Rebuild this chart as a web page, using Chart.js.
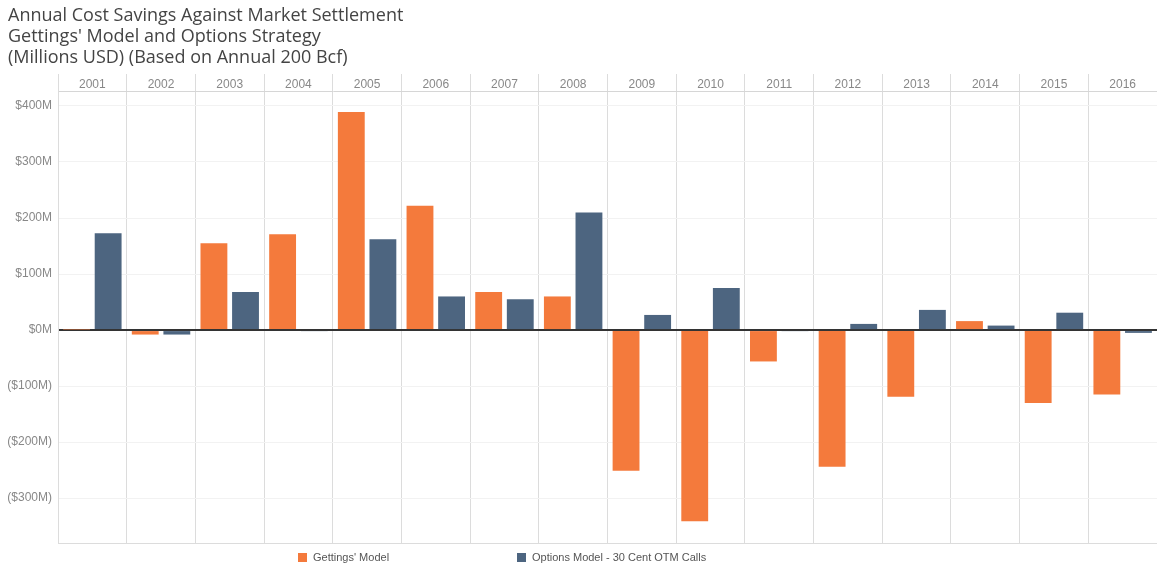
<!DOCTYPE html>
<html>
<head>
<meta charset="utf-8">
<script src="https://cdn.jsdelivr.net/npm/chart.js@4.4.1/dist/chart.umd.min.js"></script>
<style>
  html,body{margin:0;padding:0;background:#fff;}
  #wrap{position:relative;width:1157px;height:565px;}
  #legend{position:absolute;top:550px;left:0;width:1157px;height:14px;font:11px "Liberation Sans",Arial,sans-serif;color:#555;}
  #legend .item{position:absolute;top:0;display:flex;align-items:center;height:14px;}
  #legend .box{width:9px;height:9px;margin-right:6px;}
</style>
</head>
<body>
<div id="wrap">
  <canvas id="savingsChart" width="1157" height="565"></canvas>
  <div id="legend"></div>
</div>
<script>
const years=["2001","2002","2003","2004","2005","2006","2007","2008","2009","2010","2011","2012","2013","2014","2015","2016"];
const gettingsModel=[1,-8,155,171,389,222,68,60,-251,-341,-56,-244,-119,16,-130,-115];
const optionsModel=[173,-8,68,-2,162,60,55,210,27,75,-2,11,36,8,31,-5];
const yTicks=[425,400,300,200,100,0,-100,-200,-300]; // 425 = header divider line
const seriesNames=["Gettings' Model","Options Model - 30 Cent OTM Calls"];
const seriesColors=["#F47A3C","#4D6580"];
const legendLeft=[298,517];

const HEADER=425;
const fmtMoney=v=>v===HEADER?"":(v<0?"($"+Math.abs(v)+"M)":"$"+v+"M");
const font='"Liberation Sans",Arial,sans-serif';

const ctx=document.getElementById('savingsChart').getContext('2d');
const chart=new Chart(ctx,{
  type:'bar',
  data:{
    labels:years,
    datasets:[
      {label:seriesNames[0],data:gettingsModel,backgroundColor:seriesColors[0],categoryPercentage:0.92,barPercentage:0.85},
      {label:seriesNames[1],data:optionsModel,backgroundColor:seriesColors[1],categoryPercentage:0.92,barPercentage:0.85}
    ]
  },
  options:{
    responsive:false,
    animation:false,
    layout:{padding:{left:8,right:0,top:5,bottom:14}},
    plugins:{
      legend:{display:false},
      tooltip:{enabled:false},
      title:{
        display:true,align:'start',
        text:["Annual Cost Savings Against Market Settlement","Gettings' Model and Options Strategy","(Millions USD) (Based on Annual 200 Bcf)"],
        color:'#444',font:{family:'"Open Sans",sans-serif',size:18,weight:'normal',lineHeight:'21px'},
        padding:0
      }
    },
    scales:{
      x:{
        position:'top',
        grid:{offset:true,color:'#dcdcdc',drawTicks:false},
        border:{display:false},
        ticks:{mirror:true,color:'#888',padding:3,font:{family:font,size:12}}
      },
      xb:{
        position:'bottom',
        labels:years,
        grid:{display:false},
        ticks:{display:false},
        border:{display:true,color:'#dcdcdc'}
      },
      y:{
        min:-380,max:457,
        afterFit:axis=>{axis.width=50;},
        grid:{
          drawTicks:false,
          color:c=>!c.tick?'#f2f2f2':(c.tick.value===0?'#333':(c.tick.value===HEADER?'#d6d6d6':'#f2f2f2')),
          lineWidth:c=>c.tick&&c.tick.value===0?2:1
        },
        border:{display:true,color:'#dcdcdc'},
        afterBuildTicks:axis=>{axis.ticks=yTicks.map(v=>({value:v}));},
        ticks:{color:'#888',padding:6,font:{family:font,size:12},callback:v=>fmtMoney(v)}
      }
    }
  }
});

// HTML legend built from the chart's datasets
const legendEl=document.getElementById('legend');
chart.data.datasets.forEach((ds,i)=>{
  const item=document.createElement('div');
  item.className='item';
  item.style.left=legendLeft[i]+'px';
  item.innerHTML='<span class="box" style="background:'+ds.backgroundColor+'"></span><span>'+ds.label+'</span>';
  legendEl.appendChild(item);
});
</script>
</body>
</html>
